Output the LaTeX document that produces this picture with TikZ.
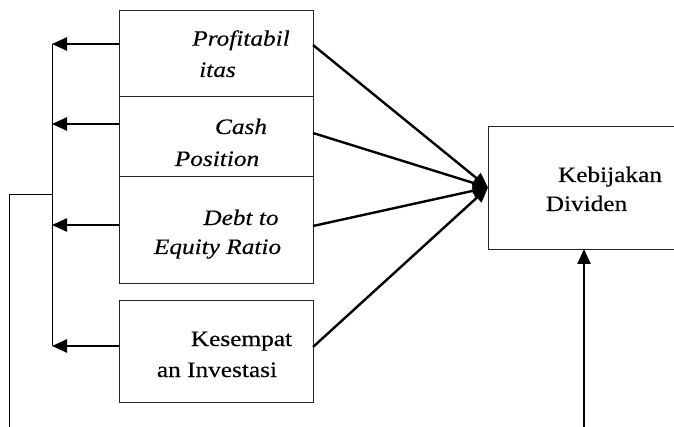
\documentclass[tikz,border=0pt]{standalone}
\usepackage{fontspec}
\setmainfont{Liberation Serif}[FakeStretch=1.15,FakeBold=0.3]
\usetikzlibrary{arrows.meta}
\begin{document}
\begin{tikzpicture}[x=1pt,y=-1pt,
  box/.style={draw=black!85, line width=0.8pt, minimum width=194pt, inner sep=0pt, outer sep=0pt},
  lbl/.style={anchor=base, inner sep=0pt, font=\fontsize{22}{26}\selectfont},
  arr/.style={line width=2.4pt, -{Triangle[length=15pt,width=13pt]}},
  thinline/.style={line width=0.8pt}]
\clip (0,0) rectangle (674,427);
% boxes
\node[box, minimum height=86pt] (b1) at (216,53) {};
\node[box, minimum height=80pt] (b2) at (216,136) {};
\node[box, minimum height=107pt] (b3) at (216,229.5) {};
\node[box, minimum height=102pt] (b4) at (216,351) {};
\node[box, minimum width=192pt, minimum height=123pt] (r) at (584,187.5) {};
% labels
\node[lbl] (t1a) at (241,45.7) {\itshape Profitabil};
\node[lbl] (t1b) at (217.5,77) {\itshape itas};
\node[lbl] (t2a) at (241,134) {\itshape Cash};
\node[lbl] (t2b) at (217,166) {\itshape Position};
\node[lbl] (t3a) at (241,225) {\itshape Debt to};
\node[lbl] (t3b) at (217.5,254) {\itshape Equity Ratio};
\node[lbl] (t4a) at (241.5,346) {Kesempat};
\node[lbl] (t4b) at (217,377) {an Investasi};
\node[lbl] (t5a) at (610,182) {Kebijakan};
\node[lbl] (t5b) at (586.5,211) {Dividen};
% left feedback arrows
\coordinate (h1) at (52,44);
\coordinate (h2) at (52,124);
\coordinate (h3) at (52,225);
\coordinate (h4) at (52,346);
\draw[arr] (b1.west |- h1) -- (h1);
\draw[arr] (b2.west |- h2) -- (h2);
\draw[arr] (b3.west |- h3) -- (h3);
\draw[arr] (b4.west |- h4) -- (h4);
\draw[thinline] (h1) -- (h4);
\coordinate (hm) at (52,194);
\coordinate (hl) at (9,194);
\coordinate (hb) at (9,430);
\draw[thinline] (hm) -- (hl) -- (hb);
% converging arrows
\draw[arr] ([yshift=8pt]b1.east) -- (r.west);
\draw[arr] ([yshift=3pt]b2.east) -- (r.west);
\draw[arr] ([yshift=3.5pt]b3.east) -- (r.west);
\draw[arr] ([yshift=4pt]b4.east) -- (r.west);
% bottom arrow
\coordinate (bb) at (584,430);
\draw[arr] (bb) -- (r.south);
\end{tikzpicture}
\end{document}
